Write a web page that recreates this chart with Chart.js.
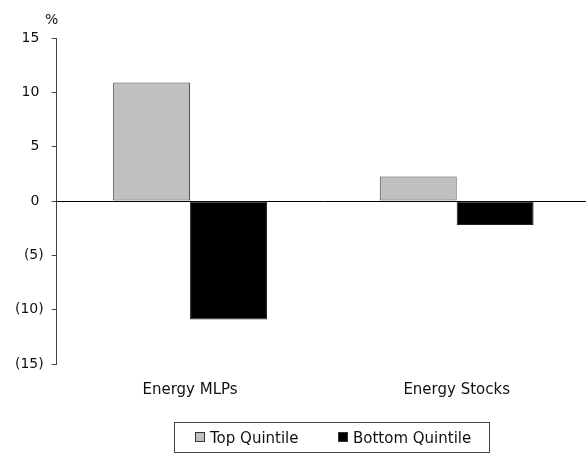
<!DOCTYPE html>
<html>
<head>
    <title>Quintile Returns</title>
    <script src="https://cdn.jsdelivr.net/npm/chart.js"></script>
    <style>
        html, body {
            margin: 0;
            padding: 0;
            background-color: #ffffff;
            overflow: hidden;
            font-family: 'DejaVu Sans', sans-serif;
        }
        #wrap {
            position: relative;
            width: 592px;
            height: 454px;
        }
        #legendBox {
            position: absolute;
            left: 174px;
            top: 422px;
            width: 314px;
            height: 29px;
            border: 1px solid #444;
            box-sizing: content-box;
            font-size: 15px;
            color: #111;
        }
        .item {
            position: absolute;
            top: 6px;
            line-height: 18px;
            white-space: nowrap;
        }
        .swatch {
            display: inline-block;
            width: 8px;
            height: 8px;
            border: 1px solid #333;
            margin-right: 5px;
            vertical-align: 1px;
        }
    </style>
</head>
<body>
    <div id="wrap">
        <canvas id="chart"></canvas>
        <div id="legendBox">
            <span class="item" style="left:20px;"><span class="swatch" style="background:#c0c0c0;"></span>Top Quintile</span>
            <span class="item" style="left:163px;"><span class="swatch" style="background:#000;"></span>Bottom Quintile</span>
        </div>
    </div>
    <script>
        // data
        const categories = ['Energy MLPs', 'Energy Stocks'];
        const topQuintile = [10.9, 2.25];
        const bottomQuintile = [-10.9, -2.2];
        const seriesNames = ['Top Quintile', 'Bottom Quintile'];

        // small "%" caption above the y axis
        const percentLabel = {
            id: 'percentLabel',
            afterDraw(chart) {
                const y = chart.scales.y;
                const ctx = chart.ctx;
                ctx.save();
                ctx.font = '14px "DejaVu Sans"';
                ctx.fillStyle = '#111';
                ctx.textAlign = 'center';
                ctx.textBaseline = 'middle';
                ctx.fillText('%', y.right - 5, y.top - 18);
                ctx.restore();
            }
        };

        new Chart(document.getElementById('chart'), {
            type: 'bar',
            data: {
                labels: categories,
                datasets: [
                    {
                        label: seriesNames[0],
                        data: topQuintile,
                        backgroundColor: '#c0c0c0',
                        borderColor: '#444',
                        borderWidth: 1,
                        borderSkipped: false
                    },
                    {
                        label: seriesNames[1],
                        data: bottomQuintile,
                        backgroundColor: '#000000',
                        borderColor: '#222',
                        borderWidth: 1,
                        borderSkipped: false
                    }
                ]
            },
            options: {
                responsive: true,
                maintainAspectRatio: false,
                animation: false,
                layout: {
                    padding: { top: 38, left: 7, right: 2, bottom: 46 }
                },
                datasets: {
                    bar: { categoryPercentage: 0.577, barPercentage: 1.0 }
                },
                plugins: {
                    legend: { display: false },
                    tooltip: { enabled: false }
                },
                scales: {
                    x: {
                        grid: { display: false },
                        border: { display: false },
                        ticks: {
                            color: '#111',
                            padding: 9,
                            font: { family: 'DejaVu Sans', size: 15 }
                        }
                    },
                    y: {
                        min: -15,
                        max: 15,
                        border: { display: true, color: '#444', width: 1 },
                        grid: {
                            drawOnChartArea: true,
                            color: c => c.tick && c.tick.value === 0 ? '#000' : 'rgba(0,0,0,0)',
                            tickColor: '#444',
                            tickLength: 5
                        },
                        ticks: {
                            stepSize: 5,
                            padding: 8,
                            color: '#111',
                            font: { family: 'DejaVu Sans', size: 14 },
                            callback: v => v < 0 ? '(' + (-v) + ')' : v + ' '
                        }
                    }
                }
            },
            plugins: [percentLabel]
        });
    </script>
</body>
</html>
